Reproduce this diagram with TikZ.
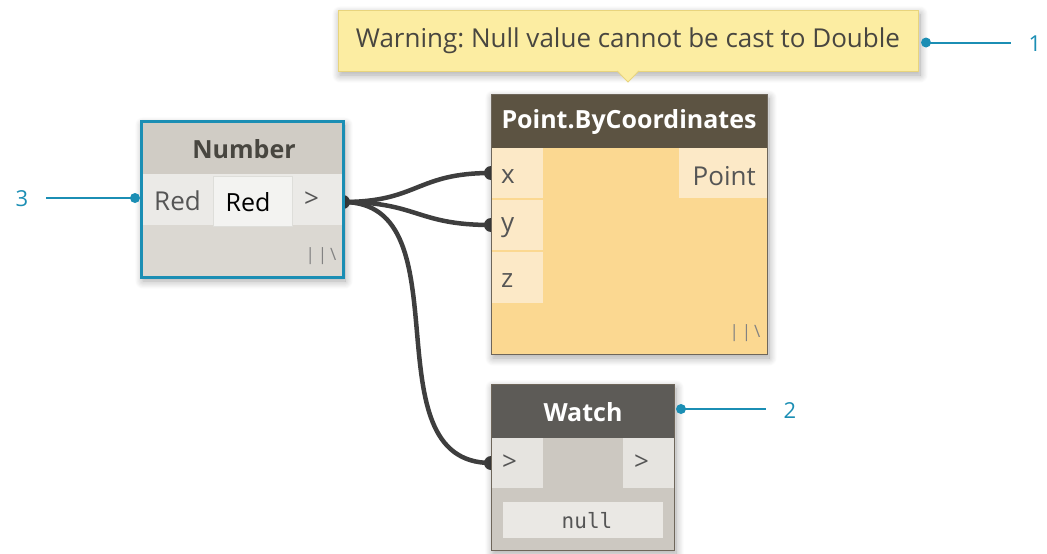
\documentclass[tikz,border=0pt]{standalone}
\usepackage{fontspec}
\setmainfont{Open Sans}
\setmonofont{DejaVu Sans Mono}
\usetikzlibrary{shadows.blur}
\frenchspacing

\definecolor{callout}{RGB}{27,142,180}
\definecolor{wirecol}{RGB}{62,62,62}
\definecolor{numhead}{RGB}{208,204,197}
\definecolor{numrow}{RGB}{235,234,231}
\definecolor{numinput}{RGB}{243,243,241}
\definecolor{numinputedge}{RGB}{222,222,218}
\definecolor{numbody}{RGB}{219,216,210}
\definecolor{ptitle}{RGB}{92,83,66}
\definecolor{pbody}{RGB}{251,216,145}
\definecolor{pport}{RGB}{252,233,199}
\definecolor{frameedge}{RGB}{110,102,90}
\definecolor{whead}{RGB}{93,91,87}
\definecolor{wbody}{RGB}{204,200,193}
\definecolor{wport}{RGB}{230,228,224}
\definecolor{wnull}{RGB}{234,232,228}
\definecolor{tipfill}{RGB}{252,237,162}
\definecolor{tipedge}{RGB}{232,212,125}
\definecolor{porttext}{RGB}{85,85,85}
\definecolor{titletext}{RGB}{72,70,64}
\definecolor{gripcol}{RGB}{130,130,130}

\pgfdeclarelayer{wires}
\pgfsetlayers{wires,main}

\tikzset{
  box/.style={inner sep=0pt, outer sep=0pt, draw=none, anchor=center},
  nodeshadow/.style={blur shadow={shadow xshift=2pt, shadow yshift=-4pt,
      shadow blur steps=12, shadow blur radius=8pt, shadow opacity=35}},
  frame/.style={box, nodeshadow},
  htext/.style={inner sep=0pt, font=\fontsize{25}{29}\selectfont\bfseries},
  ptext/.style={inner sep=0pt, anchor=west, text=porttext, font=\fontsize{26}{30}\selectfont},
  grip/.style={inner sep=0pt, text=gripcol, font=\fontsize{17}{19}\selectfont},
  wire/.style={draw=wirecol, line width=4.5pt},
  portdot/.style={fill=wirecol},
  callline/.style={draw=callout, line width=2pt},
  calldot/.style={fill=callout},
  callnum/.style={inner xsep=18pt, inner ysep=0pt, text=callout, font=\fontsize{22}{26}\selectfont},
}

\begin{document}
\begin{tikzpicture}[x=1pt,y=-1pt]
\useasboundingbox (0,0) rectangle (1047,554);

% ---------- Number node ----------
\node[frame, fill=numbody, minimum width=202, minimum height=156] (num) at (242,199) {};
\node[box, fill=numhead, minimum width=202, minimum height=53] (numhead) at (242,147.5) {};
\node[htext, text=titletext] (numtitle) at (244,149) {Number};
\node[box, fill=numrow, minimum width=202, minimum height=51] (numrow) at (242,199.5) {};
\node[box, fill=numinput, draw=numinputedge, line width=0.8pt, minimum width=79, minimum height=50] (numin) at (252.5,201) {};
\node[ptext] (numlbl) at (154,201) {Red};
\node[inner sep=0pt, text=black, font=\fontsize{25}{29}\selectfont] (numval) at (248,202) {Red};
\node[ptext] (numoutlbl) at (304,200) {>};
\node[grip] (numgrip) at (321,256) {|\hspace{3pt}|\hspace{3pt}\textbackslash};
\draw[callout, line width=3pt] (num.north west) rectangle (num.south east);
\coordinate (numout) at ([yshift=-3pt]num.east);

% ---------- Point.ByCoordinates node ----------
\node[frame, fill=pbody, draw=frameedge, line width=1pt, minimum width=276, minimum height=260] (pt) at (629,224) {};
\node[box, fill=ptitle, minimum width=276, minimum height=54] (pthead) at (629,121) {};
\node[htext, text=white] (pttitle) at (629,122) {Point.ByCoordinates};
\node[box, fill=pport, minimum width=52, minimum height=50] (px) at (517,173) {};
\node[box, fill=pport, minimum width=52, minimum height=50] (py) at (517,225) {};
\node[box, fill=pport, minimum width=52, minimum height=51] (pz) at (517,277.5) {};
\node[box, fill=pport, minimum width=88, minimum height=50] (pout) at (723,173) {};
\node[ptext] (pxl) at (501,177) {x};
\node[ptext] (pyl) at (501,228) {y};
\node[ptext] (pzl) at (501,281) {z};
\node[ptext, anchor=east] (poutl) at (756,176) {Point};
\node[grip] (ptgrip) at (745,333) {|\hspace{3pt}|\hspace{3pt}\textbackslash};
\draw[frameedge, line width=1pt] (pt.north west) rectangle (pt.south east);

% ---------- Watch node ----------
\node[frame, fill=wbody, draw=frameedge, line width=1pt, minimum width=183, minimum height=166] (watch) at (582.5,467) {};
\node[box, fill=whead, minimum width=183, minimum height=54] (whead) at (582.5,411) {};
\node[htext, text=white] (wtitle) at (583,412) {Watch};
\node[box, fill=wport, minimum width=52, minimum height=50] (win) at (517,463) {};
\node[box, fill=wport, minimum width=51, minimum height=50] (wout) at (648.5,463) {};
\node[ptext] (winl) at (502,463) {>};
\node[ptext] (woutl) at (634,463) {>};
\node[box, fill=wnull, minimum width=160, minimum height=36] (wnullbox) at (583,520) {};
\node[inner sep=0pt, text=porttext, font=\fontsize{21}{24}\selectfont\ttfamily] (wnulltext) at (587,521) {null};
\draw[frameedge, line width=1pt] (watch.north west) rectangle (watch.south east);

% ---------- Warning tooltip ----------
\node[box, fill=tipfill, draw=tipedge, line width=1pt, nodeshadow,
      minimum width=580, minimum height=61, text=titletext,
      font=\fontsize{26}{30}\selectfont] (tip) at (628,40.5) {Warning: Null value cannot be cast to Double};
\fill[tipfill] ([xshift=-11pt,yshift=1pt]tip.south) -- ([yshift=-11pt]tip.south) -- ([xshift=11pt,yshift=1pt]tip.south) -- cycle;
\draw[tipedge, line width=1pt] ([xshift=-11pt]tip.south) -- ([yshift=-11pt]tip.south) -- ([xshift=11pt]tip.south);

% ---------- Wires ----------
\begin{pgfonlayer}{wires}
  \draw[wire] (numout) .. controls +(75,0) and +(-75,0) .. (px.west);
  \draw[wire] (numout) .. controls +(75,0) and +(-75,0) .. (py.west);
  \draw[wire] (numout) .. controls +(125,0) and +(-125,0) .. (win.west);
  \fill[portdot] (numout) circle (7pt);
  \fill[portdot] (px.west) circle (7pt);
  \fill[portdot] (py.west) circle (7pt);
  \fill[portdot] (win.west) circle (7pt);
\end{pgfonlayer}

% ---------- Callouts ----------
\node[callnum] (n1) at (1035,44) {1};
\coordinate (d1) at ([xshift=8pt,yshift=-2pt]tip.east);
\draw[callline] (d1) -- (d1 -| n1.west);
\fill[calldot] (d1) circle (5pt);

\node[callnum] (n2) at (790,411) {2};
\coordinate (d2) at ([xshift=7pt,yshift=2pt]whead.east);
\draw[callline] (d2) -- (d2 -| n2.west);
\fill[calldot] (d2) circle (5pt);

\node[callnum] (n3) at (22,199) {3};
\coordinate (d3) at ([xshift=-6pt,yshift=1pt]num.west);
\draw[callline] (d3) -- (d3 -| n3.east);
\fill[calldot] (d3) circle (5pt);
\end{tikzpicture}
\end{document}
